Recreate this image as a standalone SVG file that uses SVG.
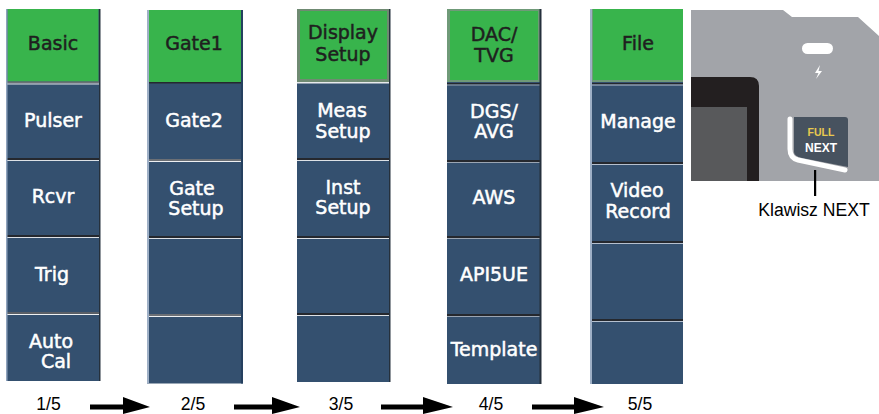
<svg xmlns="http://www.w3.org/2000/svg" width="879" height="414" viewBox="0 0 879 414">
<style>
.b{fill:#34506f}
.g{fill:#38b44c}
.t{font-family:"DejaVu Sans",sans-serif;font-weight:400;font-size:19px;text-anchor:middle;fill:#fff;stroke:#fff;stroke-width:.5}
.k{fill:#1f1f1f;stroke:#1f1f1f}
.c{font-family:"Liberation Sans",Arial,sans-serif;font-size:17.6px;text-anchor:middle;fill:#000}
.ar{fill:#000}
</style>
<rect width="879" height="414" fill="#fff"/>

<g id="menu-1">
<rect x="6" y="9" width="94" height="372" class="b"/>
<rect x="7.500" y="9" width="91" height="72.500" class="g"/>
<rect x="6" y="81.500" width="94" height="2" fill="#6b6f75"/><rect x="6" y="83.500" width="94" height="1" fill="#dde1e6"/>
<rect x="6" y="158" width="94" height="2" fill="#25282e"/><rect x="6" y="160" width="94" height="1" fill="#dde1e6"/>
<rect x="6" y="235" width="94" height="2" fill="#25282e"/><rect x="6" y="237" width="94" height="1" fill="#dde1e6"/>
<rect x="6" y="312" width="94" height="2" fill="#5a5f66"/><rect x="6" y="314" width="94" height="1" fill="#eef0f2"/>
<rect x="6" y="9" width="1.500" height="372" fill="#8fa3bd"/><rect x="99" y="9" width="1.500" height="372" fill="#25303c"/>
</g>
<g id="menu-2">
<rect x="147" y="10" width="96" height="373.500" class="b"/>
<rect x="149" y="10" width="92" height="72" class="g"/>
<rect x="147" y="82" width="96" height="1.500" fill="#25282e"/>
<rect x="147" y="159" width="96" height="2" fill="#6b6f75"/><rect x="147" y="161" width="96" height="1" fill="#eef0f2"/>
<rect x="147" y="236" width="96" height="2" fill="#25282e"/><rect x="147" y="238" width="96" height="1" fill="#dde1e6"/>
<rect x="147" y="314" width="96" height="2" fill="#6b6f75"/><rect x="147" y="316" width="96" height="1" fill="#eef0f2"/>
<rect x="147" y="10" width="2" height="373.500" fill="#9fb0c6"/><rect x="241" y="10" width="2" height="373.500" fill="#25405f"/>
</g>
<g id="menu-3">
<rect x="297" y="9" width="93" height="373" class="b"/>
<rect x="297" y="9" width="93" height="73" fill="#6f8a72"/>
<rect x="300" y="11" width="87" height="68" class="g"/>
<rect x="297" y="82" width="93" height="1.500" fill="#e8eaec"/>
<rect x="297" y="158" width="93" height="2" fill="#25282e"/><rect x="297" y="160" width="93" height="1" fill="#dde1e6"/>
<rect x="297" y="236" width="93" height="2" fill="#25282e"/><rect x="297" y="238" width="93" height="1" fill="#dde1e6"/>
<rect x="297" y="313" width="93" height="2" fill="#25282e"/><rect x="297" y="315" width="93" height="1" fill="#dde1e6"/>
<rect x="389" y="9" width="1.500" height="373" fill="#25303c"/>
</g>
<g id="menu-4">
<rect x="447" y="9" width="94" height="375" class="b"/>
<rect x="447" y="9" width="94" height="73" fill="#6f9a78"/>
<rect x="450" y="11" width="88" height="69" class="g"/>
<rect x="447" y="83" width="94" height="1.500" fill="#25282e"/><rect x="447" y="84.500" width="94" height="1" fill="#9aa5b3"/>
<rect x="447" y="160" width="94" height="2" fill="#25282e"/><rect x="447" y="162" width="94" height="1" fill="#9aa5b3"/>
<rect x="447" y="236" width="94" height="2" fill="#25282e"/><rect x="447" y="238" width="94" height="1" fill="#9aa5b3"/>
<rect x="447" y="314" width="94" height="2" fill="#25282e"/><rect x="447" y="316" width="94" height="1" fill="#9aa5b3"/>
<rect x="539.500" y="9" width="2" height="375" fill="#25303c"/>
</g>
<g id="menu-5">
<rect x="590" y="9" width="93" height="375" class="b"/>
<rect x="590" y="9" width="93" height="73" fill="#6f9a78"/>
<rect x="593" y="9" width="90" height="71" class="g"/>
<rect x="590" y="83" width="93" height="1.500" fill="#25282e"/><rect x="590" y="84.500" width="93" height="1" fill="#b5c0cf"/>
<rect x="590" y="162" width="93" height="2" fill="#25282e"/><rect x="590" y="164" width="93" height="1" fill="#b5c0cf"/>
<rect x="590" y="241" width="93" height="2" fill="#25282e"/><rect x="590" y="243" width="93" height="1" fill="#b5c0cf"/>
<rect x="590" y="319" width="93" height="2" fill="#25282e"/><rect x="590" y="321" width="93" height="1" fill="#b5c0cf"/>
<rect x="590" y="9" width="2" height="375" fill="#9fb0c6"/>
</g>

<g id="labels">
<text class="t k" x="53" y="50">Basic</text>
<text class="t" x="53" y="126.500">Pulser</text>
<text class="t" x="53" y="203">Rcvr</text>
<text class="t" x="52" y="281">Trig</text>
<text class="t" x="51" y="348">Auto</text>
<text class="t" x="56" y="368">Cal</text>

<text class="t k" x="194" y="50">Gate1</text>
<text class="t" x="194" y="126.500">Gate2</text>
<text class="t" x="192" y="195">Gate</text>
<text class="t" x="196" y="215">Setup</text>

<text class="t k" x="343" y="39">Display</text>
<text class="t k" x="343" y="60.500">Setup</text>
<text class="t" x="342" y="117">Meas</text>
<text class="t" x="343" y="137.500">Setup</text>
<text class="t" x="343" y="193.500">Inst</text>
<text class="t" x="343" y="214">Setup</text>

<text class="t k" x="494" y="41">DAC/</text>
<text class="t k" x="494" y="62">TVG</text>
<text class="t" x="494" y="118">DGS/</text>
<text class="t" x="494" y="138">AVG</text>
<text class="t" x="494" y="204">AWS</text>
<text class="t" x="494" y="281">API5UE</text>
<text class="t" x="494" y="356">Template</text>

<text class="t k" x="638" y="50">File</text>
<text class="t" x="638" y="128">Manage</text>
<text class="t" x="637" y="197">Video</text>
<text class="t" x="638" y="218">Record</text>
</g>

<g id="device">
<path d="M691 10H783L792 17H858L879 36V181H691Z" fill="#a2a4a9"/>
<path d="M691 77H750Q759 77 759 86V181H691Z" fill="#231f20"/>
<rect x="691" y="107" width="56" height="74" fill="#58595b"/>
<rect x="802" y="43" width="31" height="11" rx="5.500" fill="#fff"/>
<path d="M820 65L815 73H818.500L816 79L822 71H818.500Z" fill="#fff"/>
<path d="M794 117H845Q848 117 848 120V167L802 158Q794 156 794 152Z" fill="#47525f"/>
<path d="M790 119V149Q790 158 798 160L845 170" fill="none" stroke="#fff" stroke-width="5" stroke-linecap="round"/>
<text x="821" y="136" font-family="'Liberation Sans',Arial,sans-serif" font-weight="700" font-size="10.500" text-anchor="middle" fill="#e8c94f">FULL</text>
<text x="821" y="152" font-family="'Liberation Sans',Arial,sans-serif" font-weight="700" font-size="12" text-anchor="middle" fill="#fff">NEXT</text>
</g>

<g id="connectors">
<path class="ar" d="M90 404.500H123V397L150 407L123 414V409.500H90Z"/>
<path class="ar" d="M234 404.500H272V397L300 407L272 414V409.500H234Z"/>
<path class="ar" d="M381 404.500H423V397L453 407L423 414V409.500H381Z"/>
<path class="ar" d="M532 404.500H574V397L604 407L574 414V409.500H532Z"/>
<rect x="814" y="170" width="2.200" height="26" fill="#000"/>
</g>

<g id="captions">
<text class="c" x="48.500" y="410.200">1/5</text>
<text class="c" x="193" y="410.200">2/5</text>
<text class="c" x="341" y="410.200">3/5</text>
<text class="c" x="491" y="410.200">4/5</text>
<text class="c" x="640" y="410.200">5/5</text>
<text class="c" x="814" y="216">Klawisz NEXT</text>
</g>
</svg>
